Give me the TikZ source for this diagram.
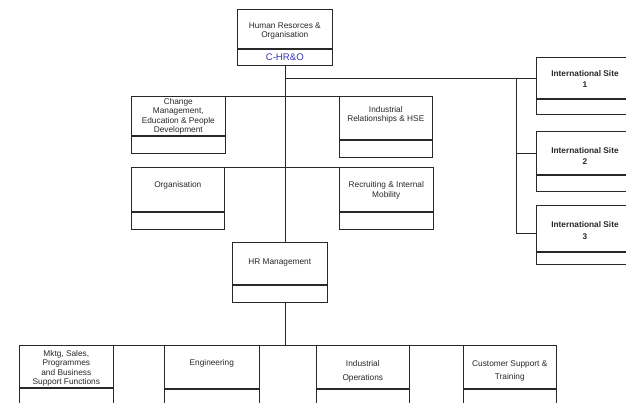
\documentclass[tikz,border=0pt]{standalone}
\usepackage{fontspec}
\setmainfont{Liberation Sans}
\definecolor{hrblue}{RGB}{52,52,190}
\definecolor{ink}{RGB}{40,40,40}
\newcommand{\lab}{\fontsize{8.3}{9.4}\selectfont}
\newcommand{\labwide}{\fontsize{8.3}{13.7}\selectfont}
\newcommand{\labbold}{\fontsize{8.3}{11.5}\selectfont\bfseries}
\begin{document}
\begin{tikzpicture}[x=1pt,y=-1pt,
  unit/.style={draw=ink, line width=0.6pt, inner sep=0pt, anchor=north west},
  txt/.style={inner sep=0pt, align=center, font=\lab, text=ink},
  wire/.style={draw=ink, line width=0.6pt}]
\useasboundingbox (0,0) rectangle (626,402);
\clip (0,0) rectangle (626,402);
\fill[white] (0,0) rectangle (626,402);

% head of the organisation
\node[unit, minimum width=95pt, minimum height=39pt] (hr) at (237,9) {};
\node[unit, minimum width=95pt, minimum height=16pt, font=\fontsize{9.6}{11}\selectfont, text=hrblue] (hrcode) at (hr.south west) {C-HR\&O};
\node[txt] (hr-t) at (hr.center |- 0,31) {Human Resorces \&\\Organisation};

% staff functions, first row
\node[unit, minimum width=94pt, minimum height=39pt] (change) at (131,96) {};
\node[unit, minimum width=94pt, minimum height=17pt] (changelow) at (change.south west) {};
\node[txt] (change-t) at (change.center |- 0,116.5) {Change\\Management,\\Education \& People\\Development};
\node[unit, minimum width=93pt, minimum height=43pt] (indrel) at (339,96) {};
\node[unit, minimum width=93pt, minimum height=17pt] (indrellow) at (indrel.south west) {};
\node[txt] (indrel-t) at (indrel.center |- 0,115) {Industrial\\Relationships \& HSE};

% staff functions, second row
\node[unit, minimum width=93pt, minimum height=44pt] (org) at (131,167) {};
\node[unit, minimum width=93pt, minimum height=17pt] (orglow) at (org.south west) {};
\node[txt] (org-t) at (org.center |- 0,185.5) {Organisation};
\node[unit, minimum width=94pt, minimum height=44pt] (recruit) at (339,167) {};
\node[unit, minimum width=94pt, minimum height=17pt] (recruitlow) at (recruit.south west) {};
\node[txt] (recruit-t) at (recruit.center |- 0,190.5) {Recruiting \& Internal\\Mobility};

% international sites
\node[unit, minimum width=98pt, minimum height=41pt] (site1) at (536,57) {};
\node[unit, minimum width=98pt, minimum height=15pt] (site1low) at (site1.south west) {};
\node[txt, font=\labbold] (site1-t) at (585,79) {International Site\\1};
\node[unit, minimum width=98pt, minimum height=43pt] (site2) at (536,131) {};
\node[unit, minimum width=98pt, minimum height=16pt] (site2low) at (site2.south west) {};
\node[txt, font=\labbold] (site2-t) at (585,156) {International Site\\2};
\node[unit, minimum width=98pt, minimum height=46pt] (site3) at (536,205) {};
\node[unit, minimum width=98pt, minimum height=12pt] (site3low) at (site3.south west) {};
\node[txt, font=\labbold] (site3-t) at (585,230.5) {International Site\\3};

% HR management
\node[unit, minimum width=95pt, minimum height=42pt] (hrm) at (232,242) {};
\node[unit, minimum width=95pt, minimum height=17pt] (hrmlow) at (hrm.south west) {};
\node[txt] (hrm-t) at (hrm.center |- 0,262.5) {HR Management};

% business areas
\node[unit, minimum width=94pt, minimum height=42pt] (mktg) at (19,345) {};
\node[unit, minimum width=94pt, minimum height=30pt] (mktglow) at (mktg.south west) {};
\node[txt] (mktg-t) at (mktg.center |- 0,368.5) {Mktg, Sales,\\Programmes\\and Business\\Support Functions};
\node[unit, minimum width=95pt, minimum height=43pt] (eng) at (164,345) {};
\node[unit, minimum width=95pt, minimum height=30pt] (englow) at (eng.south west) {};
\node[txt] (eng-t) at (eng.center |- 0,363) {Engineering};
\node[unit, minimum width=93pt, minimum height=43pt] (indops) at (316,345) {};
\node[unit, minimum width=93pt, minimum height=30pt] (indopslow) at (indops.south west) {};
\node[txt, font=\labwide] (indops-t) at (indops.center |- 0,371) {Industrial\\Operations};
\node[unit, minimum width=93pt, minimum height=43pt] (cust) at (463,345) {};
\node[unit, minimum width=93pt, minimum height=30pt] (custlow) at (cust.south west) {};
\node[txt, font=\labwide] (cust-t) at (cust.center |- 0,371) {Customer Support \&\\Training};

% reporting lines
\coordinate (spine) at (hrcode.south);
\draw[wire] (spine) -- (spine |- hrm.north);
\draw[wire] (spine |- hrmlow.south) -- (spine |- mktg.north);
\draw[wire] (change.north east) -- (indrel.north west);
\draw[wire] (org.north east) -- (recruit.north west);
\draw[wire] (mktg.north east) -- (cust.north west);

% link to the international sites
\coordinate (bracket) at (516,78);
\coordinate (s3in) at ([yshift=-28pt]site3.north west);
\draw[wire] (spine |- bracket) -- (site1.west |- bracket);
\draw[wire] (bracket) -- (bracket |- s3in) -- (s3in);
\draw[wire] (bracket |- site2.west) -- (site2.west);
\end{tikzpicture}
\end{document}
